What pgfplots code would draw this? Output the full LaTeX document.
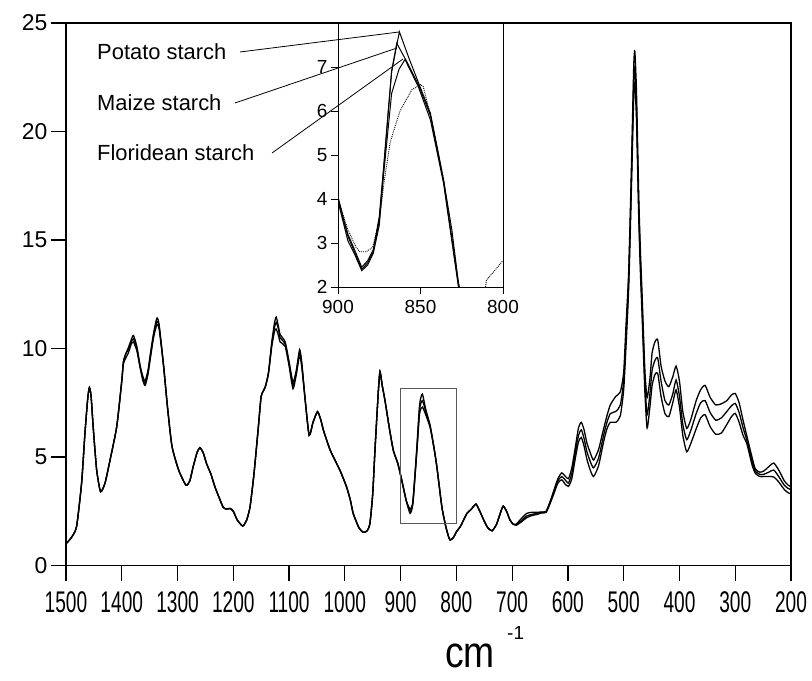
\documentclass[border=0pt]{standalone}
\usepackage{pgfplots}
\pgfplotsset{compat=1.18}
\usepackage{pgfplotstable}
\usepackage{fontspec}
\setmainfont{Liberation Sans}
\newfontfamily\xtf[FakeStretch=0.64]{Liberation Sans}
\newfontfamily\cmf[FakeStretch=0.85]{Liberation Sans}

% ---------- main spectra (x in cm^-1, y intensity) ----------
\pgfplotstableread{
x y
1500 1.0
1490 1.3
1481 1.8
1472 3.8
1466 6.1
1461 7.7
1458 8.2
1455 7.8
1451 6.3
1445 4.4
1438 3.4
1430 3.8
1421 4.86
1409 6.4
1400 8.5
1397 9.4
1392 9.8
1388 10.05
1383 10.4
1379 10.6
1373 10.1
1367 9.2
1362 8.7
1358 8.5
1353 9.0
1349 9.7
1343 10.7
1337 11.4
1333 11.1
1325 9.2
1318 7.3
1310 5.5
1298 4.4
1285 3.7
1278 3.9
1272 4.55
1265 5.2
1260 5.43
1254 5.2
1248 4.7
1240 4.2
1233 3.63
1225 3.1
1218 2.68
1212 2.6
1206 2.63
1200 2.5
1193 2.1
1183 1.82
1176 2.1
1170 2.7
1163 4.2
1155 6.4
1150 7.8
1143 8.2
1137 8.86
1131 10.3
1126 11.2
1123 11.45
1119 11.0
1116 10.65
1107 10.3
1100 9.4
1093 8.45
1087 9.0
1081 9.95
1077 9.3
1071 7.6
1064 6.0
1057 6.6
1049 7.09
1043 6.7
1038 6.2
1026 5.3
1009 4.4
997 3.63
990 3.0
985 2.4
975 1.75
967 1.53
960 1.6
955 1.94
950 3.3
946 5.3
940 8.0
937 8.93
933 8.3
928 7.6
920 6.3
913 5.3
905 4.7
898 3.94
890 3.0
883 2.6
878 2.95
871 5.4
866 7.4
861 7.9
855 7.2
847 6.45
840 5.4
835 4.55
826 2.7
819 1.8
814 1.33
811 1.17
805 1.3
800 1.55
793 1.79
787 2.1
781 2.4
773 2.6
765 2.83
758 2.5
751 2.1
744 1.75
736 1.6
728 1.9
720 2.5
716 2.74
710 2.5
704 2.1
698 1.9
693 1.9
684 2.15
674 2.4
665 2.45
656 2.45
647 2.47
639 2.5
632 2.95
626 3.4
618 4.0
611 4.27
605 4.12
599 4.0
593 4.5
587 5.4
581 6.35
576 6.6
571 6.25
566 5.65
560 5.2
554 4.86
545 5.35
536 6.3
530 6.9
524 7.4
514 7.8
506 8.0
500 8.9
496 11.0
491 13.6
486 18.5
482 23.0
480 23.7
477 21.8
473 17.0
470 14.5
467 12.5
462 9.0
458 7.73
453 8.6
449 9.8
444 10.3
439 10.4
433 9.2
426 8.5
419 8.24
412 8.7
406 9.19
400 8.5
394 7.1
387 6.32
380 6.7
370 7.6
362 8.1
354 8.3
345 7.75
335 7.4
325 7.45
315 7.6
307 7.85
300 7.93
293 7.5
286 6.7
279 5.95
270 5.0
264 4.45
256 4.3
249 4.35
240 4.55
231 4.72
222 4.4
212 3.9
205 3.7
200 3.63
}\tabA

\pgfplotstableread{
x y
1500 1.0
1490 1.3
1481 1.8
1472 3.8
1466 6.1
1461 7.7
1458 8.2
1455 7.8
1451 6.3
1445 4.4
1438 3.4
1430 3.8
1421 4.86
1409 6.4
1400 8.5
1397 9.4
1392 9.8
1388 9.95
1383 10.3
1379 10.45
1373 10.0
1367 9.16
1362 8.6
1358 8.4
1353 8.9
1349 9.6
1343 10.6
1337 11.25
1333 11.0
1325 9.2
1318 7.3
1310 5.5
1298 4.4
1285 3.7
1278 3.9
1272 4.55
1265 5.2
1260 5.43
1254 5.2
1248 4.7
1240 4.2
1233 3.63
1225 3.1
1218 2.68
1212 2.6
1206 2.63
1200 2.5
1193 2.1
1183 1.82
1176 2.1
1170 2.7
1163 4.2
1155 6.4
1150 7.8
1143 8.2
1137 8.86
1131 10.2
1126 11.0
1123 11.2
1119 10.9
1116 10.5
1107 10.2
1100 9.3
1093 8.3
1087 8.9
1081 9.85
1077 9.2
1071 7.6
1064 6.0
1057 6.6
1049 7.09
1043 6.7
1038 6.2
1026 5.3
1009 4.4
997 3.63
990 3.0
985 2.4
975 1.75
967 1.53
960 1.6
955 1.94
950 3.3
946 5.3
940 8.0
937 8.93
933 8.3
928 7.6
920 6.3
913 5.3
905 4.7
898 3.94
890 3.0
883 2.5
878 2.9
871 5.3
866 7.2
861 7.6
855 7.1
847 6.4
840 5.4
835 4.55
826 2.7
819 1.8
814 1.33
811 1.17
805 1.3
800 1.55
793 1.79
787 2.1
781 2.4
773 2.6
765 2.83
758 2.5
751 2.1
744 1.75
736 1.6
728 1.9
720 2.5
716 2.74
710 2.5
704 2.1
698 1.9
693 1.87
684 2.05
674 2.28
665 2.35
656 2.4
647 2.45
639 2.48
632 2.9
626 3.33
618 3.9
611 4.1
605 3.95
599 3.8
593 4.25
587 5.15
581 6.0
576 6.25
571 5.85
566 5.25
560 4.8
554 4.5
545 4.95
536 6.0
530 6.6
524 7.0
514 7.1
506 7.4
500 8.5
496 10.5
491 13.2
486 18.0
482 22.3
480 22.9
477 21.0
473 16.5
470 14.0
467 12.0
462 8.5
458 6.94
453 7.9
449 9.0
444 9.45
439 9.56
433 8.5
426 7.6
419 7.4
412 7.9
406 8.55
400 7.8
394 6.5
387 5.8
380 6.2
370 7.0
362 7.5
354 7.6
345 7.05
335 6.7
325 6.8
315 7.1
307 7.35
300 7.47
293 7.05
286 6.35
279 5.75
270 4.8
264 4.35
256 4.2
249 4.2
240 4.3
231 4.4
222 4.1
212 3.7
205 3.55
200 3.5
}\tabB

\pgfplotstableread{
x y
1500 1.0
1490 1.3
1481 1.8
1472 3.8
1466 6.1
1461 7.7
1458 8.2
1455 7.8
1451 6.3
1445 4.4
1438 3.4
1430 3.8
1421 4.86
1409 6.4
1400 8.5
1397 9.3
1392 9.6
1388 9.8
1383 10.2
1379 10.3
1373 9.9
1367 9.1
1362 8.5
1358 8.3
1353 8.8
1349 9.5
1343 10.5
1337 11.1
1333 10.9
1325 9.2
1318 7.3
1310 5.5
1298 4.4
1285 3.7
1278 3.9
1272 4.55
1265 5.2
1260 5.43
1254 5.2
1248 4.7
1240 4.2
1233 3.63
1225 3.1
1218 2.68
1212 2.6
1206 2.63
1200 2.5
1193 2.1
1183 1.82
1176 2.1
1170 2.7
1163 4.2
1155 6.4
1150 7.8
1143 8.2
1137 8.86
1131 10.1
1126 10.8
1123 10.9
1119 10.6
1116 10.3
1107 10.1
1100 9.2
1093 8.15
1087 8.8
1081 9.7
1077 9.1
1071 7.6
1064 6.0
1057 6.6
1049 7.09
1043 6.7
1038 6.2
1026 5.3
1009 4.4
997 3.63
990 3.0
985 2.4
975 1.75
967 1.53
960 1.6
955 1.94
950 3.3
946 5.3
940 8.0
937 8.93
933 8.3
928 7.6
920 6.3
913 5.3
905 4.7
898 3.94
890 3.0
883 2.4
878 2.85
871 5.2
866 7.0
861 7.3
855 6.95
847 6.35
840 5.4
835 4.55
826 2.7
819 1.8
814 1.33
811 1.17
805 1.3
800 1.55
793 1.79
787 2.1
781 2.4
773 2.6
765 2.83
758 2.5
751 2.1
744 1.75
736 1.6
728 1.9
720 2.5
716 2.74
710 2.5
704 2.1
698 1.9
693 1.85
684 2.0
674 2.2
665 2.3
656 2.35
647 2.42
639 2.45
632 2.85
626 3.25
618 3.8
611 3.95
605 3.75
599 3.65
593 4.0
587 4.9
581 5.7
576 5.9
571 5.5
566 4.9
560 4.4
554 4.1
545 4.6
536 5.7
530 6.3
524 6.6
514 6.6
506 6.9
500 8.1
496 10.0
491 12.8
486 17.5
482 21.6
480 22.2
477 20.5
473 16.0
470 13.5
467 11.5
462 8.0
458 6.33
453 7.3
449 8.3
444 8.8
439 8.86
433 7.8
426 7.0
419 6.86
412 7.5
406 8.09
400 7.3
394 6.0
387 5.24
380 5.6
370 6.3
362 6.8
354 6.95
345 6.4
335 6.05
325 6.1
315 6.5
307 6.85
300 7.01
293 6.6
286 6.0
279 5.6
270 4.65
264 4.25
256 4.1
249 4.1
240 4.1
231 4.08
222 3.85
212 3.5
205 3.35
200 3.3
}\tabC

% ---------- inset (900-800 cm^-1) ----------
\pgfplotstableread{
x y
900 4.05
897 3.6
894 3.2
890 2.85
885.6 2.45
882 2.6
878.6 2.85
875 3.6
872.5 4.66
870 5.8
867.5 6.9
862.8 7.8
857 7.2
851.3 6.65
844 5.95
840 5.2
836 4.43
831 3.3
827 2.09
824 1.6
}\insA
\pgfplotstableread{
x y
900 4.0
894 3.15
890 2.8
885.6 2.4
882 2.55
878.6 2.8
875 3.5
872.5 4.6
867.5 6.9
864.4 7.54
858 7.1
851.3 6.6
844 5.9
836 4.4
827 2.05
824 1.6
}\insB
\pgfplotstableread{
x y
900 3.95
894 3.05
890 2.75
885.6 2.37
882 2.5
878.6 2.77
875 3.4
872.5 4.5
867.5 6.4
863 6.95
859.4 7.17
851.3 6.55
844 5.8
836 4.35
827 2.0
824 1.6
}\insC
\pgfplotstableread{
x y
900 4.0
894 3.3
889 2.9
886.7 2.8
883 2.8
879 2.9
875 3.5
872 4.4
868.5 5.27
865 5.7
862.4 6.0
858 6.3
855.3 6.48
850 6.6
848.3 6.55
844 5.9
836 4.45
827 2.1
824 1.6
818 1.2
812 1.6
810 2.16
804 2.42
800 2.6
}\insD

\begin{document}
\begin{tikzpicture}
\begin{axis}[
  name=main,
  at={(0,0)}, anchor=south west,
  scale only axis, width=725bp, height=542.5bp,
  x dir=reverse, xmin=200, xmax=1500, ymin=0, ymax=25,
  xtick={200,300,...,1500}, ytick={0,5,...,25},
  xtick pos=bottom, ytick pos=left,
  tick align=outside, major tick length=15bp,
  axis line style={line width=1.3pt},
  every tick/.style={line width=1.3pt, black},
  /pgf/number format/1000 sep={},
  /pgf/number format/assume math mode=true,
  xticklabel style={font=\xtf\fontsize{30}{30}\selectfont, yshift=-8bp},
  yticklabel style={font=\fontsize{23}{23}\selectfont},
]
\addplot[black, line width=1.3bp, smooth, tension=0.35] table {\tabA};
\addplot[black, line width=1.3bp, smooth, tension=0.35] table {\tabB};
\addplot[black, line width=1.3bp, smooth, tension=0.35] table {\tabC};
\draw[gray!70!black, line width=0.9pt] (axis cs:900,1.95) rectangle (axis cs:800,8.15);
\end{axis}

\begin{axis}[
  at={(272bp,278.5bp)}, anchor=south west,
  scale only axis, width=165bp, height=264bp,
  x dir=reverse, xmin=800, xmax=900, ymin=2, ymax=8,
  xtick={800,850,900}, ytick={2,3,...,7},
  xtick pos=bottom, ytick pos=left,
  tick align=outside, major tick length=7bp,
  axis line style={line width=0.9pt},
  every tick/.style={line width=0.9pt, black},
  /pgf/number format/assume math mode=true,
  tick label style={font=\fontsize{19}{19}\selectfont},
  xticklabel style={yshift=-3bp},
]
\addplot[black, line width=1bp] table {\insA};
\addplot[black, line width=1bp] table {\insB};
\addplot[black, line width=1bp] table {\insC};
\addplot[black, densely dotted, line width=0.9bp] table {\insD};
\end{axis}

% labels and leader lines
\node[anchor=west, inner sep=0, font=\fontsize{22}{22}\selectfont] at (31bp,513.5bp) {Potato starch};
\node[anchor=west, inner sep=0, font=\fontsize{22}{22}\selectfont] at (31bp,462.5bp) {Maize starch};
\node[anchor=west, inner sep=0, font=\fontsize{22}{22}\selectfont] at (31bp,412.5bp) {Floridean starch};
\draw[line width=0.8pt] (174bp,513.5bp) -- (333bp,533.5bp);
\draw[line width=0.8pt] (169bp,462.5bp) -- (331bp,517.5bp);
\draw[line width=0.8pt] (206bp,412.5bp) -- (337bp,506.5bp);

% axis title
\node[anchor=base, inner sep=0, font=\cmf\fontsize{44}{44}\selectfont] at (404bp,-101.5bp) {cm};
\node[anchor=base west, inner sep=0, font=\fontsize{19}{19}\selectfont] at (441bp,-74bp) {-1};

\pgfresetboundingbox
\path[use as bounding box] (-66bp,-115.5bp) rectangle (746bp,565.5bp);
\end{tikzpicture}
\end{document}
